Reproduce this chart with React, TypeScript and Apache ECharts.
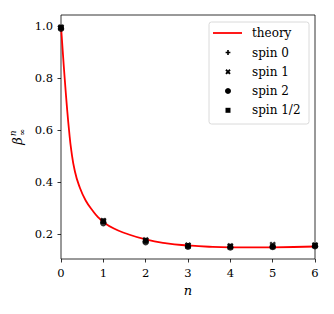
import React, { useEffect, useRef } from "react";
import * as echarts from "echarts";

const nValues = [0, 1, 2, 3, 4, 5, 6];
const spin0 = [0.995, 0.25, 0.176, 0.156, 0.153, 0.153, 0.156];
const spin1 = [0.995, 0.252, 0.178, 0.158, 0.155, 0.16, 0.158];
const spin2 = [0.99, 0.243, 0.17, 0.152, 0.149, 0.151, 0.154];
const spinHalf = [0.995, 0.25, 0.175, 0.155, 0.152, 0.153, 0.157];

const theoryN = [0, 0.047, 0.087, 0.14, 0.19, 0.243, 0.323, 0.425, 0.583, 0.78, 0.9, 1.0, 1.25, 1.5, 2, 2.5, 3, 3.5, 4, 5, 6];
const theoryB = [1.0, 0.89, 0.8, 0.69, 0.6, 0.523, 0.446, 0.388, 0.33, 0.284, 0.262, 0.247, 0.222, 0.205, 0.18, 0.165, 0.157, 0.152, 0.15, 0.15, 0.153];

const xTicks = [0, 1, 2, 3, 4, 5, 6];
const yTicks = [0.2, 0.4, 0.6, 0.8, 1.0];
const legendLabels = ["theory", "spin 0", "spin 1", "spin 2", "spin 1/2"];

const FONT = '"DejaVu Serif", "Liberation Serif", serif';

const plusPts = [[-1, -3], [1, -3], [1, -1], [3, -1], [3, 1], [1, 1], [1, 3], [-1, 3], [-1, 1], [-3, 1], [-3, -1], [-1, -1]];
const xPts = plusPts.map(([x, y]) => [(x - y) / Math.SQRT2, (x + y) / Math.SQRT2]);
const toPath = (pts: number[][]) =>
  "path://M" + pts.map((p) => p[0].toFixed(3) + "," + p[1].toFixed(3)).join("L") + "Z";

export default function App() {
  const ref = useRef<HTMLDivElement>(null);
  useEffect(() => {
    if (!ref.current) return;
    const chart = echarts.init(ref.current, undefined, { renderer: "svg" });

    const pair = (ys: number[]) => nValues.map((n, i) => [n, ys[i]]);
    const legX = 228;
    const rows = [33, 52.5, 71.8, 91, 110.3];
    const shapeAt = (pts: number[][], cx: number, cy: number, s: number) =>
      pts.map(([x, y]) => [cx + x * s, cy + y * s]);

    chart.setOption({
      animation: false,
      textStyle: { fontFamily: FONT },
      grid: { left: 61, right: 19, top: 15, bottom: 55, show: true, borderColor: "#000", borderWidth: 0.8 },
      xAxis: {
        type: "value",
        min: 0,
        max: 6,
        interval: 1,
        axisLine: { show: false },
        axisTick: { show: true, length: 3.5, lineStyle: { color: "#000", width: 0.8 }, customValues: xTicks },
        axisLabel: { color: "#000", fontFamily: FONT, fontSize: 11.5, margin: 8, customValues: xTicks },
        splitLine: { show: false },
        name: "n",
        nameLocation: "middle",
        nameGap: 25,
        nameTextStyle: { color: "#000", fontFamily: FONT, fontSize: 13, fontStyle: "italic" },
      },
      yAxis: {
        type: "value",
        min: 0.105,
        max: 1.043,
        axisLine: { show: false },
        axisTick: { show: true, length: 3.5, lineStyle: { color: "#000", width: 0.8 }, customValues: yTicks },
        axisLabel: {
          color: "#000",
          fontFamily: FONT,
          fontSize: 11.5,
          margin: 8,
          customValues: yTicks,
          formatter: (v: number) => v.toFixed(1),
        },
        splitLine: { show: false },
      },
      series: [
        {
          name: "theory",
          type: "line",
          data: theoryN.map((n, i) => [n, theoryB[i]]),
          showSymbol: false,
          smooth: 0.5,
          lineStyle: { color: "#ff0000", width: 1.8 },
          z: 2,
        },
        { name: "spin 0", type: "scatter", data: pair(spin0), symbol: toPath(plusPts), symbolSize: 5.5, itemStyle: { color: "#000" }, z: 3 },
        { name: "spin 1", type: "scatter", data: pair(spin1), symbol: toPath(xPts), symbolSize: 6.5, itemStyle: { color: "#000" }, z: 3 },
        { name: "spin 2", type: "scatter", data: pair(spin2), symbol: "circle", symbolSize: 6.5, itemStyle: { color: "#000" }, z: 3 },
        { name: "spin 1/2", type: "scatter", data: pair(spinHalf), symbol: "rect", symbolSize: 5.5, itemStyle: { color: "#000" }, z: 3 },
      ],
      graphic: [
        {
          type: "group",
          x: 17,
          y: 141,
          rotation: Math.PI / 2,
          children: [
            { type: "text", x: 0, y: 0, style: { text: "β", fontFamily: FONT, fontSize: 13, fontStyle: "italic", fill: "#000", textAlign: "center", textVerticalAlign: "middle" } },
            { type: "text", x: 5, y: -4, style: { text: "n", fontFamily: FONT, fontSize: 8.5, fontStyle: "italic", fill: "#000", textAlign: "left", textVerticalAlign: "middle" } },
            { type: "text", x: 5, y: 5, style: { text: "∞", fontFamily: FONT, fontSize: 8.5, fill: "#000", textAlign: "left", textVerticalAlign: "middle" } },
          ],
        },
        {
          type: "group",
          z: 100,
          children: [
            { type: "rect", shape: { x: 209, y: 22, width: 100, height: 102, r: 2.5 }, style: { fill: "rgba(255,255,255,0.8)", stroke: "#d0d0d0", lineWidth: 0.8 } },
            { type: "line", shape: { x1: 213, y1: rows[0], x2: 242, y2: rows[0] }, style: { stroke: "#ff0000", lineWidth: 1.8 } },
            { type: "polygon", shape: { points: shapeAt(plusPts, legX, rows[1], 0.8) }, style: { fill: "#000" } },
            { type: "polygon", shape: { points: shapeAt(xPts, legX, rows[2], 0.95) }, style: { fill: "#000" } },
            { type: "circle", shape: { cx: legX, cy: rows[3], r: 3 }, style: { fill: "#000" } },
            { type: "rect", shape: { x: legX - 2.5, y: rows[4] - 2.5, width: 5, height: 5 }, style: { fill: "#000" } },
            ...legendLabels.map((t, i) => ({
              type: "text",
              x: 252,
              y: rows[i],
              style: { text: t, fontFamily: FONT, fontSize: 12, fill: "#000", textAlign: "left", textVerticalAlign: "middle" },
            })),
          ],
        },
      ],
    });
    return () => chart.dispose();
  }, []);
  return <div ref={ref} style={{ position: "absolute", left: 0, top: 0, width: 334, height: 314 }} />;
}
